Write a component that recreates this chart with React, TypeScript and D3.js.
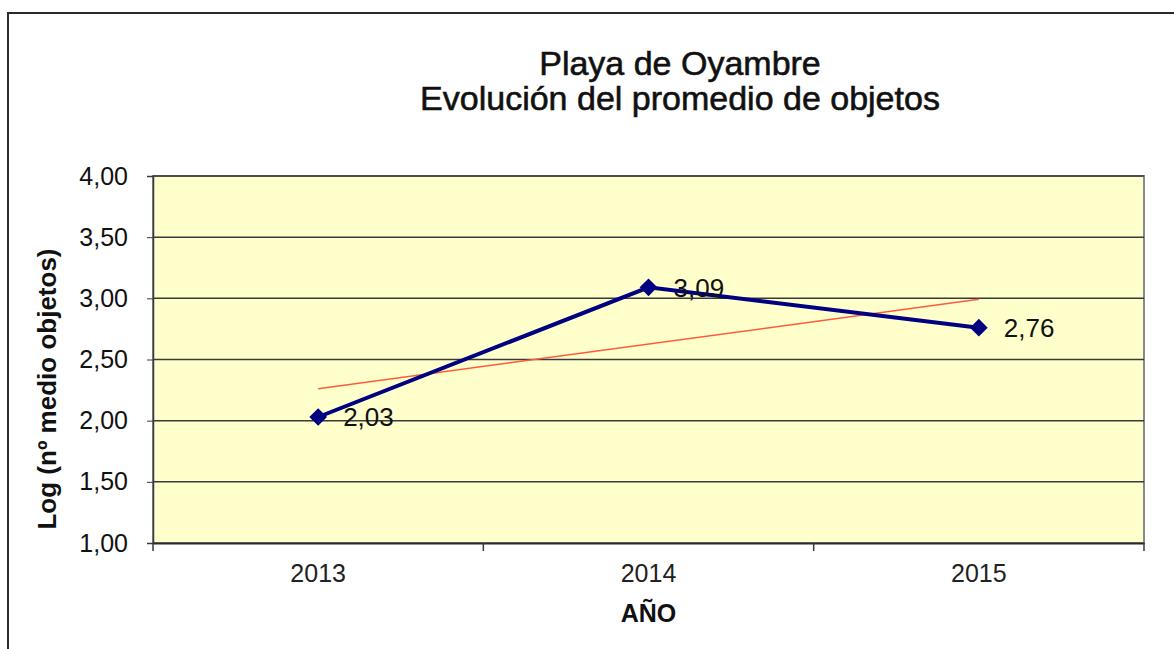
import React, { useEffect, useRef } from 'react';
import * as d3 from 'd3';

// años y promedio (log) de objetos
const years = ['2013', '2014', '2015'];
const values = [2.03, 3.09, 2.76];
const yTicks = [1.0, 1.5, 2.0, 2.5, 3.0, 3.5, 4.0];
const titleLines = ['Playa de Oyambre', 'Evolución del promedio de objetos'];

const App = () => {
  const svgRef = useRef<SVGSVGElement>(null);

  useEffect(() => {
    const width = 1174;
    const height = 649;
    const margin = { top: 176, right: 30, bottom: 106, left: 153 };
    const fmt = (v: number) => v.toFixed(2).replace('.', ',');
    const font = 'Arial, "Liberation Sans", sans-serif';

    const svg = d3.select(svgRef.current)
      .attr('width', width)
      .attr('height', height)
      .style('font-family', font);
    svg.selectAll('*').remove();

    // marco exterior
    svg.append('rect')
      .attr('x', 0).attr('y', 0).attr('width', width).attr('height', height)
      .attr('fill', '#fff');
    svg.append('path')
      .attr('d', `M8,${height} V13 H${width}`)
      .attr('fill', 'none')
      .attr('stroke', '#2a2a2a')
      .attr('stroke-width', 2);

    const x = d3.scaleBand()
      .domain(years)
      .range([margin.left, width - margin.right]);

    const y = d3.scaleLinear()
      .domain([1, 4])
      .range([height - margin.bottom, margin.top]);

    const x0 = margin.left;
    const x1 = width - margin.right;
    const y0 = height - margin.bottom;
    const y1 = margin.top;

    // fondo del área de trazado
    svg.append('rect')
      .attr('x', x0).attr('y', y1)
      .attr('width', x1 - x0).attr('height', y0 - y1)
      .attr('fill', '#ffffcc')
      .attr('stroke', '#8a8a8a')
      .attr('stroke-width', 2);

    // líneas de cuadrícula
    svg.append('g')
      .selectAll('line')
      .data(yTicks.slice(1))
      .join('line')
      .attr('x1', x0).attr('x2', x1)
      .attr('y1', d => y(d)).attr('y2', d => y(d))
      .attr('stroke', '#3a3a3a')
      .attr('stroke-width', 1.5);

    // eje Y
    const yAxis = svg.append('g')
      .attr('transform', `translate(${x0},0)`)
      .call(d3.axisLeft(y).tickValues(yTicks).tickSize(6).tickPadding(19).tickFormat(d => fmt(+d)));
    yAxis.select('.domain').attr('stroke', '#3a3a3a').attr('stroke-width', 1.5);
    yAxis.selectAll('line').attr('stroke', '#3a3a3a');
    yAxis.selectAll('text')
      .attr('font-size', 25)
      .attr('font-family', font)
      .attr('fill', '#111');

    // eje X
    const xAxis = svg.append('g')
      .attr('transform', `translate(0,${y0})`)
      .call(d3.axisBottom(x).tickSize(0).tickPadding(21));
    xAxis.select('.domain').attr('stroke', '#2a2a2a').attr('stroke-width', 2);
    xAxis.selectAll('text')
      .attr('font-size', 25)
      .attr('font-family', font)
      .attr('fill', '#222');

    // marcas entre categorías
    const bounds = [...years.map(d => x(d) as number), x1];
    svg.append('g')
      .selectAll('line')
      .data(bounds)
      .join('line')
      .attr('x1', d => d).attr('x2', d => d)
      .attr('y1', y0).attr('y2', y0 + 8)
      .attr('stroke', '#3a3a3a')
      .attr('stroke-width', 1.5);

    const cx = (d: string) => (x(d) as number) + x.bandwidth() / 2;

    // línea de tendencia (regresión lineal)
    const idx = values.map((_, i) => i);
    const mx = d3.mean(idx) as number;
    const my = d3.mean(values) as number;
    const slope = d3.sum(idx, i => (i - mx) * (values[i] - my)) / d3.sum(idx, i => (i - mx) ** 2);
    const icpt = my - slope * mx;
    svg.append('line')
      .attr('x1', cx(years[0])).attr('y1', y(icpt))
      .attr('x2', cx(years[years.length - 1])).attr('y2', y(icpt + slope * (years.length - 1)))
      .attr('stroke', '#ff5a3c')
      .attr('stroke-width', 1.5);

    // serie
    const line = d3.line<number>()
      .x((_, i) => cx(years[i]))
      .y(d => y(d));
    svg.append('path')
      .datum(values)
      .attr('d', line)
      .attr('fill', 'none')
      .attr('stroke', '#000080')
      .attr('stroke-width', 4);

    svg.append('g')
      .selectAll('path')
      .data(values)
      .join('path')
      .attr('d', d3.symbol(d3.symbolDiamond2, 200))
      .attr('transform', (d, i) => `translate(${cx(years[i])},${y(d)})`)
      .attr('fill', '#000080');

    // etiquetas de datos
    svg.append('g')
      .selectAll('text')
      .data(values)
      .join('text')
      .attr('x', (_, i) => cx(years[i]) + 25)
      .attr('y', d => y(d))
      .attr('dy', '0.36em')
      .attr('font-size', 26)
      .attr('fill', '#111')
      .text(d => fmt(d));

    // títulos
    svg.append('g')
      .selectAll('text')
      .data(titleLines)
      .join('text')
      .attr('x', 680)
      .attr('y', (_, i) => 75 + i * 35)
      .attr('text-anchor', 'middle')
      .attr('font-size', 34)
      .attr('fill', '#111')
      .style('paint-order', 'stroke')
      .attr('stroke', '#111')
      .attr('stroke-width', 0.6)
      .text(d => d);

    svg.append('text')
      .attr('x', (x0 + x1) / 2)
      .attr('y', 622)
      .attr('text-anchor', 'middle')
      .attr('font-size', 25)
      .attr('font-weight', 'bold')
      .attr('fill', '#111')
      .text('AÑO');

    svg.append('text')
      .attr('transform', `translate(56,389) rotate(-90)`)
      .attr('text-anchor', 'middle')
      .attr('font-size', 26)
      .attr('font-weight', 'bold')
      .attr('fill', '#111')
      .text('Log (nº medio objetos)');
  }, []);

  return (
    <div style={{ position: 'absolute', left: 0, top: 0 }}>
      <svg ref={svgRef} style={{ display: 'block' }}></svg>
    </div>
  );
};

export default App;
